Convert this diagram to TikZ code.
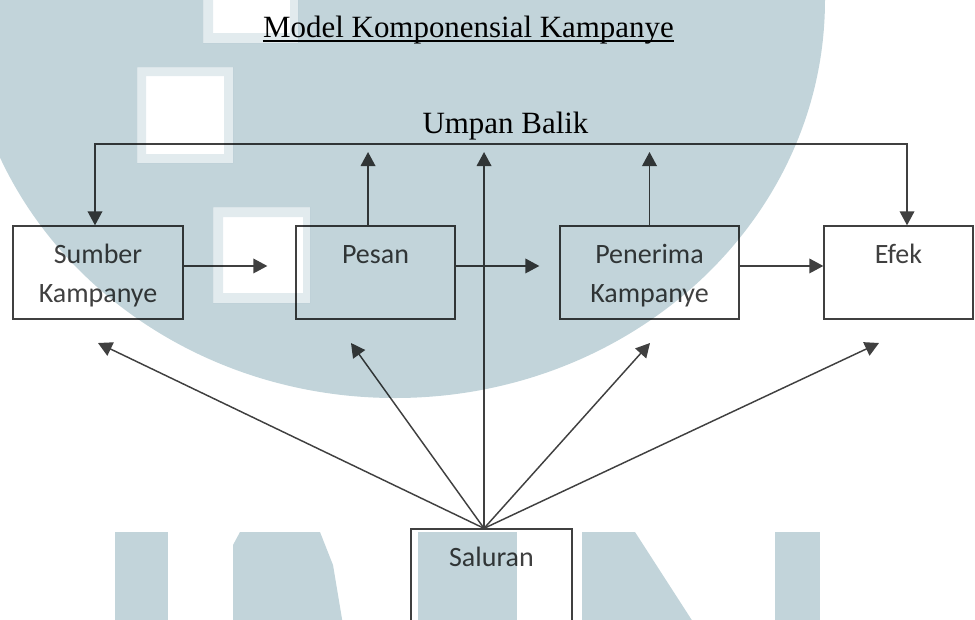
\documentclass[tikz,border=0pt]{standalone}
\usepackage{fontspec}
\setmainfont{Liberation Serif}
\newfontfamily\boxfont{Carlito}
\usetikzlibrary{arrows.meta,calc}
\definecolor{wm}{HTML}{C2D4DA}
\definecolor{wmhalo}{HTML}{E2EBEE}
\definecolor{ink}{HTML}{404040}
\begin{document}
\begin{tikzpicture}[x=0.75pt,y=-0.75pt,
  box/.style={draw=ink, line width=1pt, inner xsep=0pt, inner ysep=0pt,
    text height=27.75pt, text depth=42pt, align=center,
    font=\boxfont\fontsize{21}{29.25}\selectfont, text=ink},
  twoline/.style={box, text height=57pt, text depth=12.75pt},
  conn/.style={draw=ink, line width=1.1pt},
  tip/.tip={Triangle[length=10.5pt,width=11pt]},
  arr/.style={conn, -tip},
  heading/.style={font=\fontsize{23.2}{28}\selectfont, inner sep=0pt, text=black}]
\useasboundingbox (0,0) rectangle (975,619);

% titles
\node[heading, anchor=base] (title) at (468.5,37) {Model Komponensial Kampanye};
\draw[line width=1.1pt] ([yshift=-3pt]title.base west) -- ([yshift=-3pt]title.base east);
\node[heading, anchor=base] (umpan) at (505.5,133) {Umpan Balik};

% boxes
\node[twoline, minimum width=127.5pt]  (sumber)   at (98,272.5)   {Sumber\\Kampanye};
\node[box, minimum width=119.25pt]     (pesan)    at (375.5,272.5) {Pesan};
\node[twoline, minimum width=134.25pt] (penerima) at (649.5,272.5) {Penerima\\Kampanye};
\node[box, minimum width=111.75pt]     (efek)     at (898.5,272.5) {Efek};
\node[box, minimum width=120.75pt]     (saluran)  at (491.5,575.5) {Saluran};

% helper coordinates
\coordinate (fb) at (500,144);
\coordinate (fbtip) at (500,152);
\coordinate (src) at ([xshift=-5.6pt]saluran.north);
\coordinate (pesanUp) at ([xshift=-5.6pt]pesan.north);
\coordinate (sumberIn) at ([xshift=-2.25pt]sumber.north);
\coordinate (efekIn) at ([xshift=6.4pt]efek.north);
\coordinate (t1) at (98,343);
\coordinate (t2) at (351,343);
\coordinate (t3) at (650,343);
\coordinate (t4) at (879,343);

% feedback loop
\draw[conn, tip-tip] (sumberIn) |- (fb) -| (efekIn);
\draw[arr] (pesanUp) -- (pesanUp |- fbtip);
\draw[arr] (penerima.north) -- (penerima.north |- fbtip);
\draw[arr] (src) -- (src |- fbtip);

% main chain
\draw[arr, shorten >=21pt] ([yshift=4.9pt]sumber.east) -- ([yshift=4.9pt]pesan.west);
\draw[arr, shorten >=15pt] ([yshift=4.9pt]pesan.east) -- ([yshift=4.9pt]penerima.west);
\draw[arr] ([yshift=4.9pt]penerima.east) -- ([yshift=4.9pt]efek.west);

% channel arrows
\foreach \t in {t1,t2,t3,t4} \draw[arr] (src) -- (\t);

% watermark
\begin{scope}[blend mode=multiply]
\clip (0,0) rectangle (975,619);
\fill[wm, even odd rule] (395,0) ellipse [x radius=322.5pt, y radius=298.5pt]
  (203,-10) rectangle (298,43)
  (137,67) rectangle (233,163)
  (213,207) rectangle (310,303);
\fill[wmhalo, even odd rule]
  (203,-10) rectangle (298,43) (213,-10) rectangle (290,33)
  (137,67) rectangle (233,163) (146,76) rectangle (224,154)
  (213,207) rectangle (310,303) (223,217) rectangle (303,293);
\fill[wm] (115,532) rectangle (168,625);
\fill[wm] (240,532) -- (320,532) -- (333,565) -- (343,625) -- (233,625) -- (233,545) -- cycle;
\fill[wm] (418,532) rectangle (517,625);
\fill[wm] (582,532) -- (635,532) -- (695,625) -- (582,625) -- cycle;
\fill[wm] (775,532) rectangle (820,625);
\end{scope}
\end{tikzpicture}
\end{document}
